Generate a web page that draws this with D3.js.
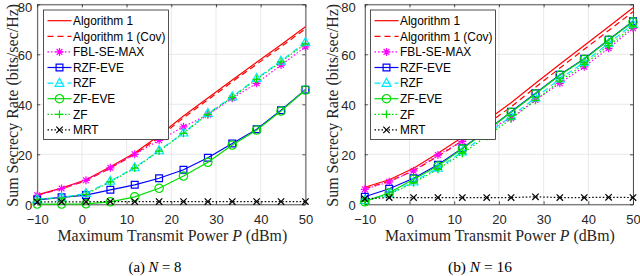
<!DOCTYPE html>
<html>
<head>
<meta charset="utf-8">
<script src="https://cdn.jsdelivr.net/npm/d3@7/dist/d3.min.js"></script>
<style>
  body { margin: 0; background: #fff; }
  svg { display: block; }
</style>
</head>
<body>
<svg id="chart" width="640" height="276"></svg>
<script>
// transmit power points (dBm), 12 points from -10 to 50
const powerDbm = [-10, -4.545, 0.909, 6.364, 11.818, 17.273, 22.727, 28.182, 33.636, 39.091, 44.545, 50];
const xTicks = [-10, 0, 10, 20, 30, 40, 50];
const yTicks = [0, 20, 40, 60, 80];
const seriesNames = ["Algorithm 1", "Algorithm 1 (Cov)", "FBL-SE-MAX", "RZF-EVE", "RZF", "ZF-EVE", "ZF", "MRT"];

// (a) N = 8
const alg1N8    = [3.8, 6.5, 9.8, 15.0, 20.5, 27.5, 35.3, 42.5, 49.7, 56.8, 63.8, 71.0];
const alg1CovN8 = [3.6, 6.2, 9.4, 14.5, 20.0, 26.8, 34.6, 41.8, 49.0, 56.0, 63.0, 70.2];
const fblN8     = [3.6, 6.3, 9.6, 14.6, 20.0, 25.6, 31.0, 35.8, 42.4, 48.4, 55.7, 63.0];
const rzfEveN8  = [1.8, 2.8, 3.7, 5.8, 7.8, 10.4, 13.8, 18.6, 24.3, 30.0, 37.6, 45.8];
const rzfN8     = [2.1, 2.7, 4.4, 9.3, 14.7, 21.5, 28.6, 36.4, 43.0, 50.4, 57.3, 64.8];
const zfEveN8   = [0.1, 0.1, 0.2, 1.0, 3.0, 6.4, 11.3, 16.8, 23.7, 29.7, 37.3, 45.7];
const zfN8      = [2.0, 2.5, 4.0, 9.0, 14.5, 21.3, 28.4, 36.0, 42.8, 50.0, 57.0, 64.2];
const mrtN8     = [0.9, 1.0, 1.0, 1.1, 1.1, 1.1, 1.1, 1.1, 1.1, 1.1, 1.1, 1.1];

// (b) N = 16
const alg1N16    = [6.8, 9.8, 14.4, 20.4, 26.8, 33.5, 40.6, 48.4, 56.0, 63.5, 71.0, 78.6];
const alg1CovN16 = [6.3, 9.2, 13.4, 19.2, 25.4, 32.0, 39.0, 46.8, 54.5, 62.0, 69.5, 77.0];
const fblN16     = [6.0, 9.0, 13.4, 19.7, 25.2, 29.7, 34.4, 41.7, 48.4, 55.0, 62.4, 70.4];
const rzfEveN16  = [3.0, 6.2, 10.4, 15.8, 22.4, 29.5, 37.0, 44.4, 51.8, 58.2, 65.8, 73.2];
const rzfN16     = [1.6, 4.2, 9.0, 14.5, 21.0, 28.0, 35.2, 42.6, 50.2, 56.8, 64.4, 72.0];
const zfEveN16   = [1.0, 4.6, 10.0, 15.3, 22.2, 29.4, 36.8, 44.2, 51.7, 58.0, 65.7, 73.0];
const zfN16      = [1.2, 4.0, 8.6, 14.0, 20.3, 27.2, 34.2, 41.6, 49.3, 56.0, 63.5, 71.0];
const mrtN16     = [2.2, 2.7, 2.7, 2.7, 2.7, 2.7, 2.7, 3.0, 2.7, 2.7, 2.8, 2.7];

// line / marker styles, same order as seriesNames
const styles = [
  { color: "#ff0000", dash: null,  marker: null },
  { color: "#ff0000", dash: "6,4", marker: null },
  { color: "#ff00ff", dash: "1.5,2", marker: "asterisk" },
  { color: "#0000ff", dash: null,  marker: "square" },
  { color: "#00e5ff", dash: "6,4", marker: "triangle" },
  { color: "#00dd00", dash: null,  marker: "circle" },
  { color: "#00dd00", dash: "1.5,2", marker: "plus" },
  { color: "#000000", dash: "1.5,2", marker: "x" }
];

const panels = [
  { left: 37.2,  right: 305.4, ylab: 13,  yPad: 5,  capX: 155, caption: ["(a) ", "N", " = 8"],
    data: [alg1N8, alg1CovN8, fblN8, rzfEveN8, rzfN8, zfEveN8, zfN8, mrtN8], legX: 43.5 },
  { left: 364.8, right: 633,   ylab: 333, yPad: 9,  capX: 480, caption: ["(b) ", "N", " = 16"],
    data: [alg1N16, alg1CovN16, fblN16, rzfEveN16, rzfN16, zfEveN16, zfN16, mrtN16], legX: 370.5 }
];

const svg = d3.select("#chart");
const axisColor = "#262626";
const yTop = 4.3, yBottom = 204.3;

// scale a text's font so it spans the wanted width
function fitWidth(sel, target) {
  const w = sel.node().getComputedTextLength();
  const fs = parseFloat(sel.attr("font-size"));
  const nfs = fs * target / w;
  sel.attr("font-size", nfs + "px");
  return nfs;
}

function markerPath(type) {
  const p = d3.path();
  if (type === "square") { p.rect(-3.4, -3.4, 6.8, 6.8); }
  else if (type === "circle") { p.arc(0, 0, 4.2, 0, 2 * Math.PI); p.closePath(); }
  else if (type === "triangle") { p.moveTo(0, -4.8); p.lineTo(4.4, 3.2); p.lineTo(-4.4, 3.2); p.closePath(); }
  else if (type === "plus") { p.moveTo(-4, 0); p.lineTo(4, 0); p.moveTo(0, -4); p.lineTo(0, 4); }
  else if (type === "x") { p.moveTo(-3.2, -3.2); p.lineTo(3.2, 3.2); p.moveTo(-3.2, 3.2); p.lineTo(3.2, -3.2); }
  else if (type === "asterisk") {
    p.moveTo(-4, 0); p.lineTo(4, 0); p.moveTo(0, -4); p.lineTo(0, 4);
    p.moveTo(-2.9, -2.9); p.lineTo(2.9, 2.9); p.moveTo(-2.9, 2.9); p.lineTo(2.9, -2.9);
  }
  return p.toString();
}

panels.forEach(pn => {
  const x = d3.scaleLinear().domain([-10, 50]).range([pn.left, pn.right]);
  const y = d3.scaleLinear().domain([0, 80]).range([yBottom, yTop]);
  const g = svg.append("g");

  // grid
  g.append("g").selectAll("line").data(xTicks).join("line")
    .attr("x1", d => x(d)).attr("x2", d => x(d)).attr("y1", yTop).attr("y2", yBottom)
    .attr("stroke", "#e3e3e3").attr("stroke-width", 0.8);
  g.append("g").selectAll("line").data(yTicks).join("line")
    .attr("x1", pn.left).attr("x2", pn.right).attr("y1", d => y(d)).attr("y2", d => y(d))
    .attr("stroke", "#e3e3e3").attr("stroke-width", 0.8);

  // axes, ticks inside like matlab
  const axB = g.append("g").attr("transform", `translate(0,${yBottom})`)
    .call(d3.axisBottom(x).tickValues(xTicks).tickSizeInner(-3).tickSizeOuter(0).tickPadding(10.5));
  const axT = g.append("g").attr("transform", `translate(0,${yTop})`)
    .call(d3.axisTop(x).tickValues(xTicks).tickSizeInner(-3).tickSizeOuter(0).tickFormat(""));
  const axL = g.append("g").attr("transform", `translate(${pn.left},0)`)
    .call(d3.axisLeft(y).tickValues(yTicks).tickSizeInner(-3).tickSizeOuter(0).tickPadding(pn.yPad));
  const axR = g.append("g").attr("transform", `translate(${pn.right},0)`)
    .call(d3.axisRight(y).tickValues(yTicks).tickSizeInner(-3).tickSizeOuter(0).tickFormat(""));
  [axB, axT, axL, axR].forEach(a => {
    a.select(".domain").attr("stroke", axisColor).attr("stroke-width", 0.8);
    a.selectAll(".tick line").attr("stroke", axisColor).attr("stroke-width", 0.8);
    a.selectAll("text").attr("fill", axisColor)
      .attr("font-family", "'Liberation Sans', Arial, sans-serif").attr("font-size", "13px");
  });
  // top label sits at the window edge, push it just inside
  axL.selectAll("text").attr("dy", d => d === 80 ? "0.58em" : "0.38em");

  // series
  pn.data.forEach((vals, i) => {
    const st = styles[i];
    const pts = powerDbm.map((p, k) => [p, vals[k]]);
    const line = d3.line().x(d => x(d[0])).y(d => y(d[1]));
    g.append("path").datum(pts)
      .attr("fill", "none").attr("stroke", st.color).attr("stroke-width", 1.2)
      .attr("stroke-dasharray", st.dash).attr("d", line);
    if (st.marker) {
      g.append("g").selectAll("path").data(pts).join("path")
        .attr("transform", d => `translate(${x(d[0])},${y(d[1])})`)
        .attr("d", markerPath(st.marker))
        .attr("fill", "none").attr("stroke", st.color).attr("stroke-width", 1.2);
    }
  });

  // legend
  const lg = g.append("g").attr("transform", `translate(${pn.legX},10)`);
  lg.append("rect").attr("width", 125).attr("height", 129.5)
    .attr("fill", "#fff").attr("stroke", axisColor).attr("stroke-width", 0.8);
  const legTexts = [];
  seriesNames.forEach((name, i) => {
    const st = styles[i];
    const ly = 10.7 + i * 15.6;
    lg.append("line").attr("x1", 4).attr("x2", 28).attr("y1", ly).attr("y2", ly)
      .attr("stroke", st.color).attr("stroke-width", 1.2).attr("stroke-dasharray", st.dash);
    if (st.marker) {
      lg.append("path").attr("transform", `translate(16,${ly})`).attr("d", markerPath(st.marker))
        .attr("fill", "none").attr("stroke", st.color).attr("stroke-width", 1.2);
    }
    legTexts.push(lg.append("text").attr("x", 29.5).attr("y", ly).attr("dy", "0.36em").text(name)
      .attr("font-family", "'Liberation Sans', Arial, sans-serif").attr("font-size", "12px").attr("fill", "#000"));
  });
  const legFs = fitWidth(legTexts[1], 92.5);
  legTexts.forEach(t => t.attr("font-size", legFs + "px"));

  // axis labels
  const ytxt = svg.append("text")
    .attr("transform", `translate(${pn.ylab + 5},${(yTop + yBottom) / 2 + 1}) rotate(-90)`)
    .attr("text-anchor", "middle")
    .attr("font-family", "'Liberation Serif', 'Times New Roman', serif").attr("font-size", "15px")
    .attr("fill", axisColor).text("Sum Secrecy Rate (bits/sec/Hz)");
  fitWidth(ytxt, 203);

  const xtxt = svg.append("text")
    .attr("x", (pn.left + pn.right) / 2 + 1).attr("y", 241)
    .attr("text-anchor", "middle")
    .attr("font-family", "'Liberation Serif', 'Times New Roman', serif").attr("font-size", "15px")
    .attr("fill", axisColor);
  xtxt.append("tspan").text("Maximum Transmit Power ");
  xtxt.append("tspan").attr("font-style", "italic").text("P");
  xtxt.append("tspan").text(" (dBm)");
  fitWidth(xtxt, 230);

  const cap = svg.append("text")
    .attr("x", pn.capX).attr("y", 272).attr("text-anchor", "middle")
    .attr("font-family", "'Liberation Serif', 'Times New Roman', serif").attr("font-size", "14px")
    .attr("fill", "#000");
  cap.append("tspan").text(pn.caption[0]);
  cap.append("tspan").attr("font-style", "italic").text(pn.caption[1]);
  cap.append("tspan").text(pn.caption[2]);
  fitWidth(cap, pn.caption[2].length > 4 ? 64 : 53);
});
</script>
</body>
</html>
